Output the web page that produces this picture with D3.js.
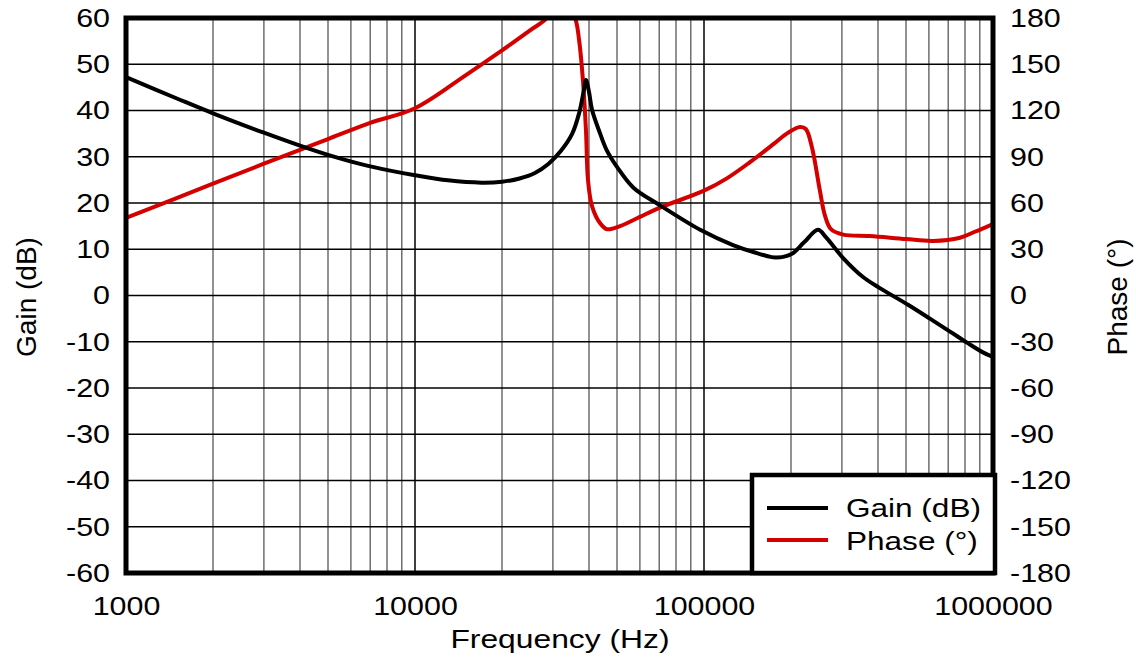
<!DOCTYPE html>
<html>
<head>
<meta charset="utf-8">
<script src="https://cdn.jsdelivr.net/npm/d3@7"></script>
<style>
  body { margin: 0; background: #fff; }
  text { font-family: "Liberation Sans", Arial, sans-serif; fill: #000; }
</style>
</head>
<body>
<div id="chart"></div>
<script>
// Bode plot: gain (left axis) and phase (right axis) vs frequency

var gainFreq = [1000, 1500, 2000, 3000, 4000, 5000, 6500, 8200, 10000, 13000, 17000, 20000, 23000, 26000, 29000, 32000, 35000, 37000, 38300, 39050, 40000, 41000, 43650, 46000, 50000, 57000, 70000, 97000, 126000, 150000, 177000, 200000, 222000, 248000, 265000, 303000, 355000, 406000, 508000, 605000, 710000, 813000, 923000, 1000000];
var gainDb = [47.2, 42.6, 39.4, 35.2, 32.4, 30.4, 28.4, 27.0, 26.0, 24.9, 24.4, 24.6, 25.3, 26.5, 28.5, 31.3, 35.0, 39.5, 44.0, 46.6, 44.0, 40.1, 35.1, 31.5, 27.8, 23.3, 19.6, 14.2, 10.9, 9.3, 8.2, 8.9, 11.5, 14.2, 12.5, 8.1, 4.0, 1.6, -2.0, -5.0, -7.8, -10.2, -12.3, -13.3];

var phaseFreq = [1000, 2000, 3000, 4000, 5000, 7000, 10000, 15000, 20000, 25000, 28600, 32000, 35800, 37000, 38100, 39050, 39680, 40970, 43650, 46170, 51200, 60000, 70400, 100000, 120000, 144300, 173300, 195000, 214800, 225000, 236400, 251800, 262000, 275000, 303000, 375000, 500000, 620000, 769000, 870000, 1000000];
var phaseDeg = [50.3, 72.5, 85.5, 94.5, 101.5, 112, 121.5, 143, 159, 172, 180, 196, 180, 165, 140, 107, 75, 58, 47, 43, 45, 51, 57, 68, 76, 86.5, 98, 105.5, 109.3, 108, 96, 68, 52, 43, 39.5, 38.6, 36.6, 35.4, 37.5, 41.5, 46.4];

var gainTicks = [60, 50, 40, 30, 20, 10, 0, -10, -20, -30, -40, -50, -60];
var phaseTicks = [180, 150, 120, 90, 60, 30, 0, -30, -60, -90, -120, -150, -180];
var freqTicks = [1000, 10000, 100000, 1000000];

var seriesNames = ["Gain (dB)", "Phase (°)"];
var seriesColors = ["#000000", "#d40000"];

var svgWidth = 1136;
var svgHeight = 657;

var margin = { top: 18, right: 143, bottom: 84, left: 126 };
var width = svgWidth - margin.left - margin.right;
var height = svgHeight - margin.top - margin.bottom;

// the reference text is a little wider than Arial, so stretch it
function stretch(sel, k) {
    sel.each(function () {
        var w = this.getComputedTextLength();
        d3.select(this)
            .attr("textLength", w * k)
            .attr("lengthAdjust", "spacingAndGlyphs");
    });
}

var svg = d3.select("#chart")
    .append("svg")
    .attr("width", svgWidth)
    .attr("height", svgHeight);

var chartGroup = svg.append("g")
    .attr("transform", `translate(${margin.left}, ${margin.top})`);

var x = d3.scaleLog().domain([1000, 1000000]).range([0, width]);
var yGain = d3.scaleLinear().domain([-60, 60]).range([height, 0]);
var yPhase = d3.scaleLinear().domain([-180, 180]).range([height, 0]);

// minor vertical grid lines (2..9 in each decade)
var minorTicks = [];
[1000, 10000, 100000].forEach(function (dec) {
    for (var k = 2; k <= 9; k++) minorTicks.push(dec * k);
});

chartGroup.append("g")
    .selectAll("line")
    .data(minorTicks)
    .enter()
    .append("line")
    .attr("x1", d => x(d)).attr("x2", d => x(d))
    .attr("y1", 0).attr("y2", height)
    .attr("stroke", "#6e6e6e")
    .attr("stroke-width", 1.5);

chartGroup.append("g")
    .selectAll("line")
    .data(freqTicks)
    .enter()
    .append("line")
    .attr("x1", d => x(d)).attr("x2", d => x(d))
    .attr("y1", 0).attr("y2", height)
    .attr("stroke", "#000")
    .attr("stroke-width", 1.5);

chartGroup.append("g")
    .selectAll("line")
    .data(gainTicks)
    .enter()
    .append("line")
    .attr("x1", 0).attr("x2", width)
    .attr("y1", d => yGain(d)).attr("y2", d => yGain(d))
    .attr("stroke", "#000")
    .attr("stroke-width", 1.5);

// clip for curves
chartGroup.append("clipPath")
    .attr("id", "plotClip")
    .append("rect")
    .attr("width", width)
    .attr("height", height);

var gainLine = d3.line()
    .x((d, i) => x(gainFreq[i]))
    .y(d => yGain(d))
    .curve(d3.curveCatmullRom.alpha(0.5));

var phaseLine = d3.line()
    .x((d, i) => x(phaseFreq[i]))
    .y(d => yPhase(d))
    .curve(d3.curveCatmullRom.alpha(0.5));

chartGroup.append("path")
    .datum(phaseDeg)
    .attr("clip-path", "url(#plotClip)")
    .attr("fill", "none")
    .attr("stroke", seriesColors[1])
    .attr("stroke-width", 4)
    .attr("stroke-linejoin", "round")
    .attr("d", phaseLine);

chartGroup.append("path")
    .datum(gainDb)
    .attr("clip-path", "url(#plotClip)")
    .attr("fill", "none")
    .attr("stroke", seriesColors[0])
    .attr("stroke-width", 4)
    .attr("stroke-linejoin", "round")
    .attr("d", gainLine);

// frame
chartGroup.append("rect")
    .attr("width", width)
    .attr("height", height)
    .attr("fill", "none")
    .attr("stroke", "#000")
    .attr("stroke-width", 5);

// axes (labels only)
var leftAxis = d3.axisLeft(yGain).tickValues(gainTicks).tickFormat(d => String(d)).tickSize(0).tickPadding(16);
var rightAxis = d3.axisRight(yPhase).tickValues(phaseTicks).tickFormat(d => String(d)).tickSize(0).tickPadding(17);
var bottomAxis = d3.axisBottom(x).tickValues(freqTicks).tickFormat(d => String(d)).tickSize(0).tickPadding(24);

[
    chartGroup.append("g").call(leftAxis),
    chartGroup.append("g").attr("transform", `translate(${width}, 0)`).call(rightAxis),
    chartGroup.append("g").attr("transform", `translate(0, ${height})`).call(bottomAxis)
].forEach(function (g) {
    g.select(".domain").remove();
    g.attr("font-family", null).attr("font-size", null);
    var t = g.selectAll("text")
        .style("font-family", "Liberation Sans, Arial, sans-serif")
        .style("font-size", "26px")
        .attr("fill", "#000");
    stretch(t, 1.17);
});

// axis titles
svg.append("text")
    .attr("x", 560)
    .attr("y", 648)
    .attr("text-anchor", "middle")
    .style("font-size", "26.5px")
    .text("Frequency (Hz)")
    .call(stretch, 1.2);

svg.append("text")
    .attr("transform", "translate(36, 297) rotate(-90)")
    .attr("text-anchor", "middle")
    .style("font-size", "28px")
    .text("Gain (dB)");

svg.append("text")
    .attr("transform", "translate(1127, 297) rotate(-90)")
    .attr("text-anchor", "middle")
    .style("font-size", "28px")
    .text("Phase (°)");

// legend
var legend = svg.append("g").attr("transform", "translate(752, 475)");

legend.append("rect")
    .attr("width", 243)
    .attr("height", 98)
    .attr("fill", "#fff")
    .attr("stroke", "#000")
    .attr("stroke-width", 4.5);

seriesNames.forEach(function (name, i) {
    legend.append("line")
        .attr("x1", 15).attr("x2", 76)
        .attr("y1", 33 + i * 32).attr("y2", 33 + i * 32)
        .attr("stroke", seriesColors[i])
        .attr("stroke-width", 4);
    legend.append("text")
        .attr("x", 94)
        .attr("y", 42 + i * 33)
        .style("font-size", "26.5px")
        .text(name)
        .call(stretch, 1.19);
});
</script>
</body>
</html>
